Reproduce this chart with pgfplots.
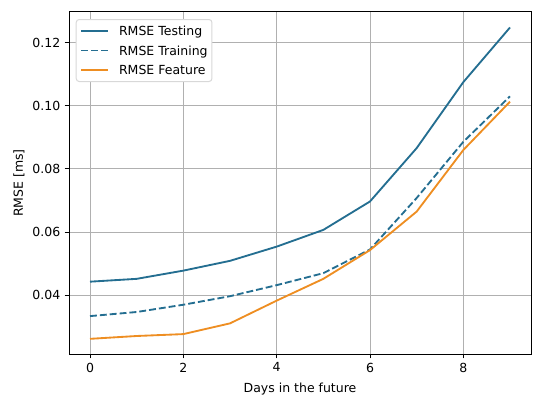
\documentclass[border=0pt]{standalone}
\usepackage{pgfplots}
\pgfplotsset{compat=1.18}
\usepackage{fontspec}
\setmainfont{DejaVu Sans}
\definecolor{cTest}{RGB}{36,110,145}
\definecolor{cFeat}{RGB}{238,142,34}
\definecolor{gridc}{RGB}{176,176,176}
\definecolor{legc}{RGB}{216,216,216}
\begin{document}
\fontsize{12.5bp}{15bp}\selectfont
\begin{tikzpicture}[font=\fontsize{12.5bp}{15bp}\selectfont]
\path[use as bounding box] (0,0) rectangle (540bp,402bp);
\begin{axis}[
  at={(69bp,48bp)}, anchor=south west,
  scale only axis, width=462bp, height=342bp,
  xmin=-0.45, xmax=9.45, ymin=0.0214, ymax=0.1297,
  xtick={0,2,4,6,8},
  ytick={0.04,0.06,0.08,0.10,0.12},
  yticklabel style={/pgf/number format/.cd, fixed, fixed zerofill, precision=2},
  /pgf/number format/assume math mode=true,
  scaled y ticks=false,
  tick align=outside, major tick length=4.4bp,
  tick style={black, line width=1bp},
  xtick pos=bottom, ytick pos=left,
  axis line style={line width=1bp},
  grid=major, grid style={gridc, line width=1bp},
  xlabel={Days in the future}, ylabel={RMSE [ms]},
  xlabel style={at={(axis description cs:0.5,-0.0731)}, anchor=north},
  ylabel style={at={(axis description cs:-0.0868,0.5)}, anchor=south, rotate=0},
  legend style={at={(0.0145,0.9795)}, anchor=north west, draw=legc, fill=white, rounded corners=3bp, line width=1bp,
    inner xsep=4.3bp, inner ysep=3.5bp, row sep=3.5bp,
    nodes={inner sep=0bp, text height=12.5bp, text depth=3.5bp},
    /tikz/every odd column/.append style={column sep=10bp}},
  legend cell align=left,
]
\addplot[cTest, line width=1.85bp, legend image code/.code={\draw[cTest, line width=1.85bp] (0bp,0bp) -- (26.7bp,0bp);}] coordinates {(0,0.0443)(1,0.0452)(2,0.0478)(3,0.0509)(4,0.0554)(5,0.0607)(6,0.0697)(7,0.0866)(8,0.1075)(9,0.1248)};
\addlegendentry{RMSE Testing}
\addplot[cTest, line width=1.85bp, dash pattern=on 6.9bp off 3bp, legend image code/.code={\draw[cTest, line width=1.85bp, dash pattern=on 6.9bp off 3bp] (0bp,0bp) -- (26.7bp,0bp);}] coordinates {(0,0.0334)(1,0.0347)(2,0.0370)(3,0.0397)(4,0.0432)(5,0.0470)(6,0.0545)(7,0.0708)(8,0.0886)(9,0.1030)};
\addlegendentry{RMSE Training}
\addplot[cFeat, line width=1.85bp, legend image code/.code={\draw[cFeat, line width=1.85bp] (0bp,0bp) -- (26.7bp,0bp);}] coordinates {(0,0.0262)(1,0.0271)(2,0.0277)(3,0.0311)(4,0.0383)(5,0.0452)(6,0.0543)(7,0.0665)(8,0.0860)(9,0.1013)};
\addlegendentry{RMSE Feature}
\end{axis}
\end{tikzpicture}
\end{document}
